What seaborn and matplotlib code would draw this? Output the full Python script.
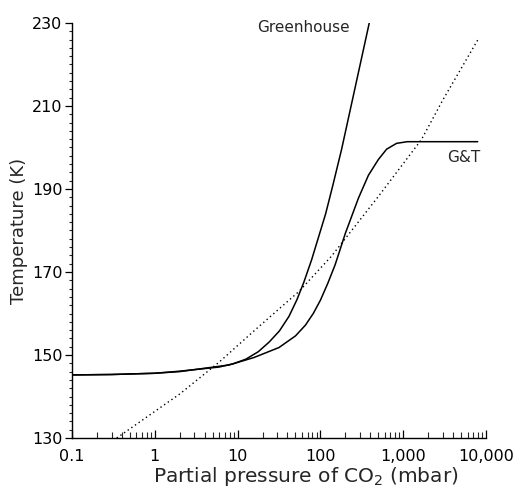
import numpy as np
import pandas as pd
import matplotlib
matplotlib.use("Agg")
import matplotlib.pyplot as plt
import seaborn as sns
from matplotlib.ticker import FixedLocator, LogLocator, MultipleLocator, NullFormatter

# ---- data ----
gh_p = [0.1, 0.3, 1, 2.0, 6.0, 8.9, 12.6, 17.8, 24, 32, 41.7, 52, 63, 78.5, 115.6, 141, 180, 263, 389]
gh_T = [145.2, 145.3, 145.6, 146.1, 147.1, 147.9, 149.0, 150.8, 153.1, 155.8, 159.3, 163.3,
        167.5, 173.0, 184.0, 190.8, 199.5, 214.5, 230.0]

gt_p = [0.1, 0.3, 1, 2.0, 7.9, 15.8, 31.6, 50, 66, 82, 100, 123, 151, 200, 288, 380, 501, 631, 832, 1122, 7943]
gt_T = [145.2, 145.3, 145.6, 146.0, 147.6, 149.4, 151.8, 154.6, 157.2, 160.0, 163.2, 167.3,
        171.8, 179.3, 187.8, 193.3, 197.1, 199.6, 201.0, 201.4, 201.4]

dot_p = [0.347, 2.0, 6.0, 16.6, 55.0, 136, 501, 1660, 3020, 7943]
dot_T = [130.0, 140.6, 148.3, 156.2, 165.3, 173.8, 188.2, 201.9, 211.5, 225.9]

xticks = [0.1, 1, 10, 100, 1000, 10000]
xtick_labels = ["0.1", "1", "10", "100", "1,000", "10,000"]
yticks = [130, 150, 170, 190, 210, 230]

df = pd.concat([
    pd.DataFrame({"p": gh_p, "T": gh_T, "curve": "Greenhouse"}),
    pd.DataFrame({"p": gt_p, "T": gt_T, "curve": "G&T"}),
    pd.DataFrame({"p": dot_p, "T": dot_T, "curve": "fit"}),
])

sns.set_style("ticks")
plt.rcParams["font.family"] = ["DejaVu Sans"]

fig = plt.figure(figsize=(5.16, 4.92), dpi=100)
ax = fig.add_axes([72 / 516, 1 - 438 / 492, (486 - 72) / 516, (438 - 23) / 492])

sns.lineplot(data=df[df.curve == "Greenhouse"], x="p", y="T", color="black",
             lw=1.1, ax=ax, sort=False, estimator=None)
sns.lineplot(data=df[df.curve == "G&T"], x="p", y="T", color="black",
             lw=1.1, ax=ax, sort=False, estimator=None)
sns.lineplot(data=df[df.curve == "fit"], x="p", y="T", color="black",
             lw=1.0, ax=ax, sort=False, estimator=None, linestyle=(0, (1, 2.2)))

ax.set_xscale("log")
ax.set_xlim(0.1, 10000)
ax.set_ylim(130, 230)
ax.xaxis.set_major_locator(FixedLocator(xticks))
ax.set_xticklabels(xtick_labels)
ax.xaxis.set_minor_locator(LogLocator(base=10, subs=np.arange(2, 10)))
ax.xaxis.set_minor_formatter(NullFormatter())
ax.set_yticks(yticks)
ax.yaxis.set_minor_locator(MultipleLocator(2))

ax.tick_params(axis="x", which="major", direction="in", length=6, width=0.9,
               labelsize=11.5, pad=8, colors="black")
ax.tick_params(axis="x", which="minor", direction="in", length=4, width=0.8)
ax.tick_params(axis="y", which="major", direction="out", length=5, width=0.9,
               labelsize=11.5, pad=2, colors="black")
ax.tick_params(axis="y", which="minor", direction="out", length=2.5, width=0.8)

sns.despine(ax=ax)
for s in ["left", "bottom"]:
    ax.spines[s].set_linewidth(1.0)
    ax.spines[s].set_color("black")

ax.set_xlabel("Partial pressure of CO$_2$ (mbar)", fontsize=14.5)
ax.xaxis.set_label_coords(0.565, -0.066)
ax.set_ylabel("Temperature (K)", fontsize=13, labelpad=2.5)

ax.text(0.56, 0.99, "Greenhouse", transform=ax.transAxes, fontsize=11,
        ha="center", va="center")
ax.text(0.947, 0.675, "G&T", transform=ax.transAxes, fontsize=11,
        ha="center", va="center")

fig.savefig("out.png", dpi=100, facecolor="white")
